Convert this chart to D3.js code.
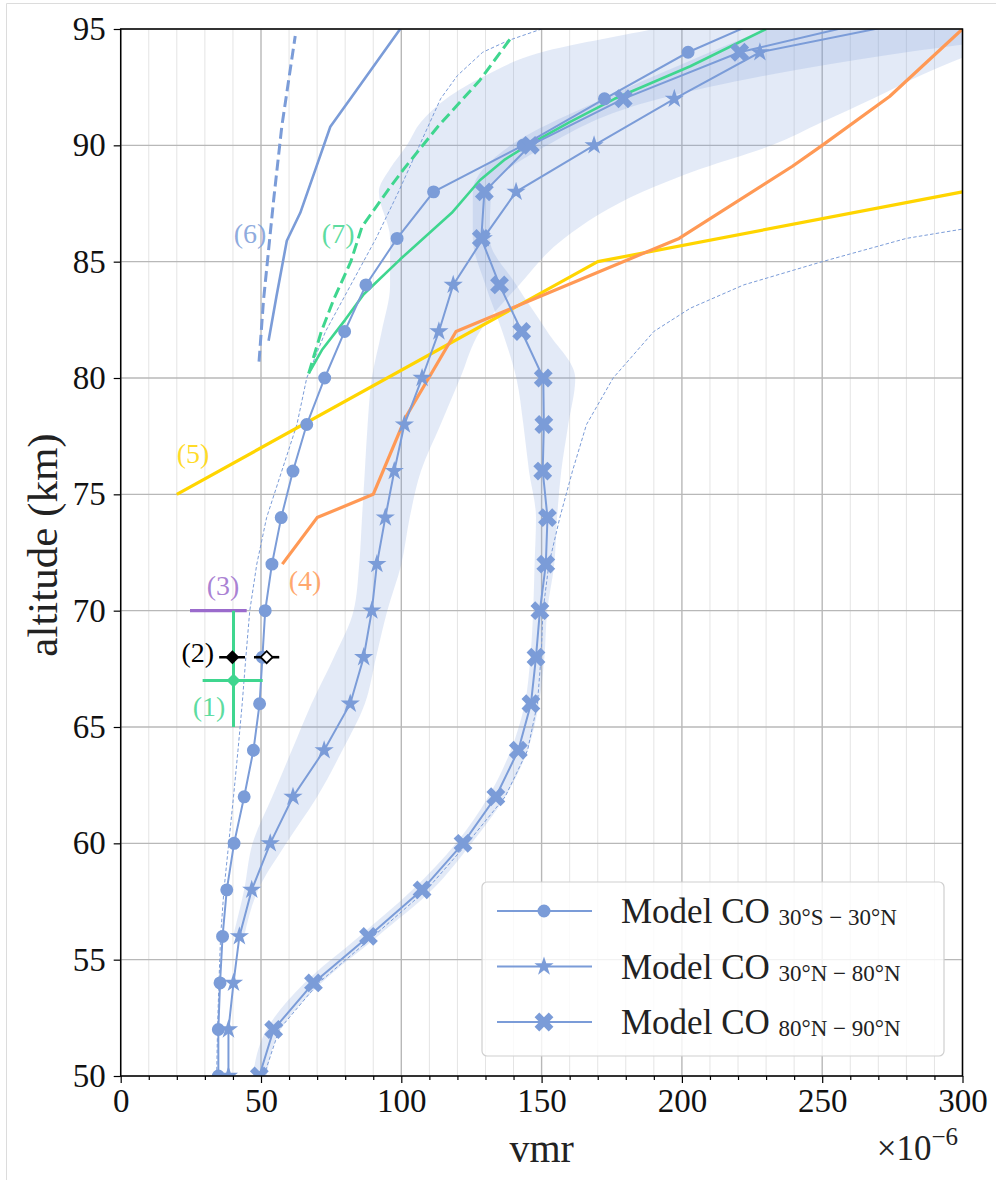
<!DOCTYPE html>
<html>
<head>
<meta charset="utf-8">
<script src="https://cdn.jsdelivr.net/npm/d3@7"></script>
<style>
body{margin:0;background:#fff}
svg{display:block}
text{font-family:"Liberation Serif","Times New Roman",serif}
</style>
</head>
<body>
<div id="chart"></div>
<script>
// model profiles, every 2 km
var alts = [50,52,54,56,58,60,62,64,66,68,70,72,74,76,78,80,82,84,86,88,90,92,94,96];
var circleVmr = [34.8,34.8,35.4,36.3,37.8,40.4,44.0,47.3,49.5,50.5,51.5,53.9,57.2,61.4,66.3,72.7,79.8,87.4,98.5,111.5,143.4,172.4,202.2,240];
var starVmr   = [38.4,38.4,40.2,42.3,46.7,53.3,61.4,72.5,81.8,86.6,89.5,91.3,94.3,97.5,101.1,107.4,113.4,118.5,129.2,140.9,168.7,197.3,227.8,310];
var crossVmr  = [49.4,54.5,68.7,88.3,107.4,122,133.7,141.7,146.2,148,149.4,151.5,152.1,150.4,150.8,150.6,142.9,135,128.5,129.6,146,179.1,220.6,291];

// spread bands
var starBandAlt = [56,58,60,62,64,66,68,70,72,74,76,78,80,82,84,86,88,89,90,91,92,93,94,95,96];
var starBandLo  = [40,44,47,54,61,68,76,83,85,86,87,88,89.5,93,96,96,92,96,102,107,116,130,150,190,230];
var starBandHi  = [44,49,59,70,79,87,91,95,100,103,107,114,121,128,142,158,186,207,232,250,268,285,305,330,360];
var crossBandAlt = [50,52,54,56,58,60,62,64,66,68,70,72,74,76,78,80,82,84,86,88,90,92,94,96];
var crossBandLo  = [47,52,65.5,85,104,119.5,131,139,144,146,147,147.5,148,145.5,143.5,141,136,130,125.5,125.5,139,172,210,250];
var crossBandHi  = [52,57,71.5,91.5,111,125,137,145,149,151,152,154.5,155.5,157,159.5,162,152,141,131.5,132,152,192,280,420];

// thin dashed reference profiles
var refAAlt = [50,52,54,56,58,60,62,64,66,68,70,72,74,76,78,80,82,84,86,88,90,92,93,94,94.5,95];
var refAVmr = [34.2,34.5,35,35.6,36.8,38.5,40.2,41.8,43.3,44.6,46,48.5,52,57.4,62.8,66.3,73,82,91,99,106.5,114,120,129,138,150];
var refBAlt = [50,52,54,56,58,60,62,64,66,68,70,72,74,76,78,80,82,83,84,85,86,86.4];
var refBVmr = [51,56.5,70.5,90,109,123.5,137,145,148.5,149.8,150.5,152.6,156.5,161,166,175.5,190,203,222,250,280,300];

// observations (4)-(7)
var obs4Alt = [72,74,75,78.3,82,86,89.1,90,92.1,95];
var obs4Vmr = [57.6,70,90,101.5,119.5,199,239.4,250,274,300];
var obs5Alt = [75,85,88];
var obs5Vmr = [20,170,300];
var obs6SolidAlt = [81.6,83.5,85.9,87.1,89,90.8,92.2,95];
var obs6SolidVmr = [52.7,55.5,59.2,64,69.5,74.7,83,99.6];
var obs6DashAlt = [80.7,83.35,87.65,90.8,94.7];
var obs6DashVmr = [49.3,50.9,54.5,57.4,62.2];
var obs7SolidAlt = [80.2,81.2,82.5,83.6,85.1,87.1,88.5,89.4,90,91,92,93.4,95];
var obs7SolidVmr = [67,71.7,80,86.6,99.6,118,128,137,145,160,176,203,230];
var obs7DashAlt = [80.2,82,83.4,85,86.5,88.2,89,90.8,92.8,94.7];
var obs7DashVmr = [67,71.5,76,82,86,96,101,113,128,139.6];

// point measurements (1)-(3)
var obs1 = {vmr:40.2, alt:67, vmrLo:29.2, vmrHi:50.6, altLo:65, altHi:70};
var obs2 = [{vmr:39.8, alt:68, lo:35.1, hi:44.3, filled:true},
            {vmr:52, alt:68, lo:47.5, hi:56.5, filled:false}];
var obs3 = {alt:70, lo:24.7, hi:44.9};

var labelText = ["(1)","(2)","(3)","(4)","(5)","(6)","(7)"];
var labelVmr  = [31.5,27.5,36.5,65.7,25.8,46.1,77.5];
var labelAlt  = [65.9,68.22,71.1,71.31,76.77,86.23,86.23];

var legendNames = ["30°S − 30°N","30°N − 80°N","80°N − 90°N"];
var xMajor = [0,50,100,150,200,250,300];
var xMinor = [10,20,30,40,60,70,80,90,110,120,130,140,160,170,180,190,210,220,230,240,260,270,280,290];
var yMajor = [50,55,60,65,70,75,80,85,90,95];

var blue = "#7b9cd8", green = "#3fd68f", gold = "#ffd500", orange = "#ff9955", purple = "#9b6bcc";

var W = 996, H = 1180;
var svg = d3.select("#chart").append("svg").attr("width", W).attr("height", H);

var x = d3.scaleLinear().domain([0,300]).range([120.7,962.5]);
var y = d3.scaleLinear().domain([50,95]).range([1076,29]);

// page frame
svg.append("path").attr("d","M6.5,1180V3.5H996").attr("fill","none").attr("stroke","#dcdcdc").attr("stroke-width",1);

svg.append("defs").append("clipPath").attr("id","plot")
  .append("rect").attr("x",x(0)).attr("y",y(95)).attr("width",x(300)-x(0)).attr("height",y(50)-y(95));

// grid
var grid = svg.append("g");
grid.selectAll(".mn").data(xMinor).enter().append("line")
  .attr("x1",d=>x(d)).attr("x2",d=>x(d)).attr("y1",y(50)).attr("y2",y(95))
  .attr("stroke","#e4e4e4").attr("stroke-width",1);
grid.selectAll(".mx").data(xMajor).enter().append("line")
  .attr("x1",d=>x(d)).attr("x2",d=>x(d)).attr("y1",y(50)).attr("y2",y(95))
  .attr("stroke","#b8b8b8").attr("stroke-width",1.4);
grid.selectAll(".my").data(yMajor).enter().append("line")
  .attr("x1",x(0)).attr("x2",x(300)).attr("y1",d=>y(d)).attr("y2",d=>y(d))
  .attr("stroke","#b8b8b8").attr("stroke-width",1.4);

var plot = svg.append("g").attr("clip-path","url(#plot)");

// bands
function band(a, lo, hi){
  var rows = a.map(function(d,i){ return {alt:d, lo:lo[i], hi:hi[i]}; });
  plot.append("path").datum(rows)
    .attr("d", d3.area().y(d=>y(d.alt)).x0(d=>x(d.lo)).x1(d=>x(d.hi)).curve(d3.curveMonotoneY))
    .attr("fill", blue).attr("fill-opacity", 0.21);
}
band(starBandAlt, starBandLo, starBandHi);
band(crossBandAlt, crossBandLo, crossBandHi);

function profile(a, v, color, width, dash){
  var rows = a.map(function(d,i){ return [v[i], d]; });
  var p = plot.append("path").datum(rows)
    .attr("d", d3.line().x(d=>x(d[0])).y(d=>y(d[1])))
    .attr("fill","none").attr("stroke",color).attr("stroke-width",width)
    .attr("stroke-linejoin","round");
  if (dash) p.attr("stroke-dasharray", dash);
  return p;
}

profile(refAAlt, refAVmr, blue, 1, "3.5,2.2");
profile(refBAlt, refBVmr, blue, 1, "3.5,2.2");

profile(obs6SolidAlt, obs6SolidVmr, blue, 2.6);
profile(obs6DashAlt, obs6DashVmr, blue, 3, "11,5");
profile(obs7DashAlt, obs7DashVmr, green, 3, "11,5");
profile(obs5Alt, obs5Vmr, gold, 3.2);
profile(obs4Alt, obs4Vmr, orange, 3.2);
profile(obs7SolidAlt, obs7SolidVmr, green, 2.6);

// marker shapes
function crossPath(s){
  var w = 1/3, pts = [[-w,-1],[w,-1],[w,-w],[1,-w],[1,w],[w,w],[w,1],[-w,1],[-w,w],[-1,w],[-1,-w],[-w,-w]];
  var c = Math.SQRT1_2;
  return "M" + pts.map(function(p){ return [(p[0]*c - p[1]*c)*s, (p[0]*c + p[1]*c)*s].join(","); }).join("L") + "Z";
}
var starPath = d3.symbol().type(d3.symbolStar).size(115)();
var circlePath = d3.symbol().type(d3.symbolCircle).size(Math.PI*42)();
var xPath = crossPath(10);
var diamond = function(s){ return "M0,"+(-s)+"L"+s+",0L0,"+s+"L"+(-s)+",0Z"; };

function model(v, marker){
  var rows = alts.map(function(d,i){ return [v[i], d]; });
  plot.append("path").datum(rows)
    .attr("d", d3.line().x(d=>x(d[0])).y(d=>y(d[1])))
    .attr("fill","none").attr("stroke",blue).attr("stroke-width",2);
  plot.selectAll(null).data(rows).enter().append("path")
    .attr("d", marker)
    .attr("transform", d=>"translate("+x(d[0])+","+y(d[1])+")")
    .attr("fill", blue);
}
model(circleVmr, circlePath);
model(starVmr, starPath);
model(crossVmr, xPath);

// point measurements
plot.append("line").attr("x1",x(obs3.lo)).attr("x2",x(obs3.hi)).attr("y1",y(obs3.alt)).attr("y2",y(obs3.alt))
  .attr("stroke",purple).attr("stroke-width",3.2);
plot.append("line").attr("x1",x(obs1.vmr)).attr("x2",x(obs1.vmr)).attr("y1",y(obs1.altLo)).attr("y2",y(obs1.altHi))
  .attr("stroke",green).attr("stroke-width",3);
plot.append("line").attr("x1",x(obs1.vmrLo)).attr("x2",x(obs1.vmrHi)).attr("y1",y(obs1.alt)).attr("y2",y(obs1.alt))
  .attr("stroke",green).attr("stroke-width",3);
plot.append("path").attr("d",diamond(7)).attr("transform","translate("+x(obs1.vmr)+","+y(obs1.alt)+")").attr("fill",green);

obs2.forEach(function(d){
  plot.append("line").attr("x1",x(d.lo)).attr("x2",x(d.hi)).attr("y1",y(d.alt)).attr("y2",y(d.alt))
    .attr("stroke","#000").attr("stroke-width",2.6);
  plot.append("path").attr("d",diamond(d.filled ? 7 : 6))
    .attr("transform","translate("+x(d.vmr)+","+y(d.alt)+")")
    .attr("fill", d.filled ? "#000" : "#fff").attr("stroke","#000").attr("stroke-width", d.filled ? 0 : 1.8);
});

// annotations
var labelColor = [green,"#000",purple,orange,gold,blue,green];
svg.selectAll(".lab").data(labelText).enter().append("text")
  .attr("x",(d,i)=>x(labelVmr[i])).attr("y",(d,i)=>y(labelAlt[i]))
  .attr("text-anchor","middle").attr("dominant-baseline","central")
  .attr("font-size",28).attr("fill",(d,i)=>labelColor[i])
  .attr("fill-opacity",(d,i)=>i===1?1:0.85)
  .text(d=>d);

// axes
var ax = svg.append("g").attr("transform","translate(0,"+y(50)+")");
ax.call(d3.axisBottom(x).tickValues(xMajor).tickSize(7).tickPadding(6).tickFormat(d3.format("d")));
var axm = svg.append("g").attr("transform","translate(0,"+y(50)+")");
axm.call(d3.axisBottom(x).tickValues(xMinor).tickSize(4).tickFormat(""));
var ay = svg.append("g").attr("transform","translate("+x(0)+",0)");
ay.call(d3.axisLeft(y).tickValues(yMajor).tickSize(7).tickPadding(8).tickFormat(d3.format("d")));
[ax, axm, ay].forEach(function(g){
  g.select(".domain").remove();
  g.selectAll(".tick line").attr("stroke","#000").attr("stroke-width",1.2);
  g.selectAll("text").attr("font-family","Liberation Serif, serif").attr("font-size",33).attr("fill","#111");
});
ax.selectAll("text").attr("dy","0.71em");

svg.append("rect").attr("x",x(0)).attr("y",y(95)).attr("width",x(300)-x(0)).attr("height",y(50)-y(95))
  .attr("fill","none").attr("stroke","#000").attr("stroke-width",1.5);

svg.append("text").attr("x",(x(0)+x(300))/2).attr("y",1162).attr("text-anchor","middle")
  .attr("font-size",40).attr("fill","#222").text("vmr");
var mult = svg.append("text").attr("x",958).attr("y",1160).attr("text-anchor","end").attr("font-size",35).attr("fill","#222");
mult.append("tspan").text("×10");
mult.append("tspan").attr("font-size",25).attr("dy",-15).text("−6");
svg.append("text").attr("transform","translate(57,545) rotate(-90)").attr("text-anchor","middle")
  .attr("font-size",43).attr("fill","#222").text("altitude (km)");

// legend
var lg = svg.append("g");
lg.append("rect").attr("x",482).attr("y",882).attr("width",462).attr("height",174).attr("rx",5)
  .attr("fill","#fff").attr("fill-opacity",0.82).attr("stroke","#cfcfcf").attr("stroke-width",1.2);
var legendMarks = [circlePath, starPath, xPath];
legendNames.forEach(function(name,i){
  var ly = 911 + i*55.5;
  lg.append("line").attr("x1",497).attr("x2",592).attr("y1",ly).attr("y2",ly).attr("stroke",blue).attr("stroke-width",2);
  lg.append("path").attr("d",legendMarks[i]).attr("transform","translate(544,"+ly+")").attr("fill",blue);
  var t = lg.append("text").attr("x",621).attr("y",ly+12).attr("font-size",35).attr("fill","#222");
  t.append("tspan").text("Model CO ");
  t.append("tspan").attr("font-size",23).attr("dy",2).text(name);
});
</script>
</body>
</html>
